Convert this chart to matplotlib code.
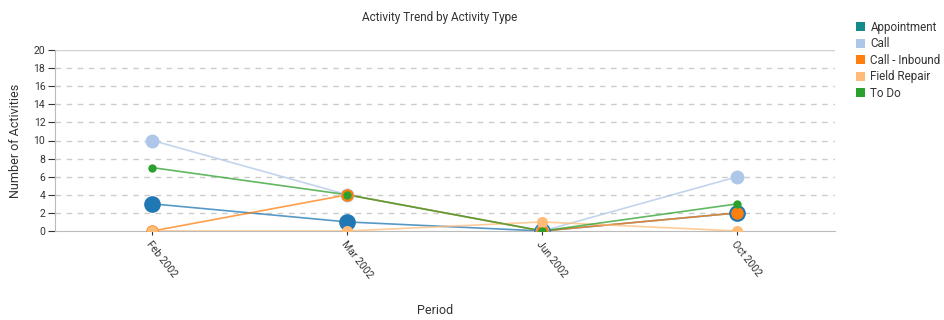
import matplotlib
matplotlib.use("Agg")
import matplotlib.pyplot as plt
from matplotlib.patches import Patch

plt.rcParams['font.family'] = ['Roboto', 'DejaVu Sans']

periods = ["Feb 2002", "Mar 2002", "Jun 2002", "Oct 2002"]
series_names = ["Appointment", "Call", "Call - Inbound", "Field Repair", "To Do"]
appointment = [3, 1, 0, 2]
call = [10, 4, 0, 6]
call_inbound = [0, 4, 0, 2]
field_repair = [0, 0, 1, 0]
to_do = [7, 4, 0, 3]

series_values = [appointment, call, call_inbound, field_repair, to_do]
line_colors = ["#1f77b4", "#aec7e8", "#ff7f0e", "#ffbb78", "#2ca02c"]
legend_colors = ["#138a8c", "#aec7e8", "#ff7f0e", "#ffbb78", "#2ca02c"]
marker_sizes = [12, 10, 9, 8, 6]
yticks = list(range(0, 21, 2))

fig = plt.figure(figsize=(9.45, 3.2), dpi=100)
ax = fig.add_axes([55/945, 1-231/320, (835-55)/945, (231-50)/320])

x = list(range(len(periods)))
for i in range(len(series_values)):
    ax.plot(x, series_values[i], color=line_colors[i], lw=1.2, alpha=0.75, zorder=2+i*0.1)
    ax.plot(x, series_values[i], ls='none', zorder=3+i*0.1,
            marker='o', markersize=marker_sizes[i], markerfacecolor=line_colors[i],
            markeredgewidth=0)

ax.set_xlim(-0.5, 3.5)
ax.set_ylim(0, 20)
ax.set_yticks(yticks)
ax.set_yticklabels([str(v) for v in yticks], fontsize=7.5, color="#333333")
ax.set_xticks(x)
ax.set_xticklabels(periods, rotation=-52, ha='left', va='top', fontsize=7.5,
                   color="#333333", rotation_mode='anchor')

for v in yticks[1:-1]:
    ax.axhline(v, color="#cccccc", lw=1, ls=(0, (4, 4)), zorder=1)
ax.axhline(20, color="#d0d0d0", lw=1, zorder=1)

for s in ['top', 'right']:
    ax.spines[s].set_visible(False)
ax.spines['left'].set_color("#bbbbbb")
ax.spines['bottom'].set_color("#bbbbbb")
ax.tick_params(axis='y', length=5, color="#333333", pad=2)
ax.tick_params(axis='x', length=3, color="#333333", pad=3)

ax.set_ylabel("Number of Activities", fontsize=9, color="#333333", labelpad=8)
fig.text(435/945, 1-311/320, "Period", fontsize=9, color="#333333", ha='center', va='center')
fig.text(440/945, 1-18/320, "Activity Trend by Activity Type", fontsize=8.5,
         color="#333333", ha='center', va='center')

handles = [Patch(facecolor=c, edgecolor='none') for c in legend_colors]
leg = fig.legend(handles, series_names, loc='upper left', bbox_to_anchor=(850/945, 1-15/320),
                 frameon=False, fontsize=8.4, handlelength=0.8, handleheight=0.8,
                 handletextpad=0.45, labelspacing=0.3, borderpad=0)
for t in leg.get_texts():
    t.set_color("#333333")

fig.savefig("out.png", dpi=100)
